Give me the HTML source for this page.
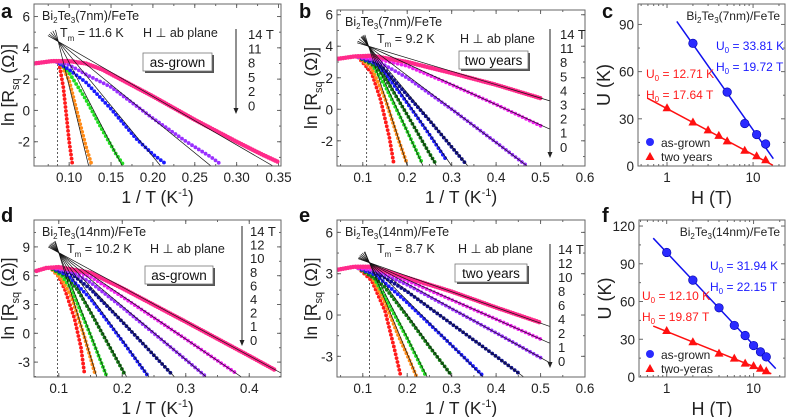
<!DOCTYPE html>
<html><head><meta charset="utf-8"><style>
body{margin:0;background:#fff}
svg{display:block;font-family:"Liberation Sans",Arial,sans-serif}
</style></head><body>
<svg id="fig" width="787" height="417" viewBox="0 0 787 417" xmlns="http://www.w3.org/2000/svg"></svg>
<script>
// ---------- Panel a data ----------
const A_fields=["14 T","11","8","5","2","0"];
const A_colors=["#ff2a8a","#9a30ff","#1a1aff","#22dd22","#ff8c1a","#ff1a1a"];
const A_slopes=[31,43.6,65,104,219,null];
const A_curves=[
 [[0.058,3.0],[0.08,3.15],[0.1,3.15],[0.12,3.0],[0.14,2.6],[0.2,0.9],[0.25,-0.6],[0.3,-2.0],[0.33,-2.8],[0.35,-3.3]],
 [[0.085,3.1],[0.1,2.9],[0.12,2.3],[0.15,1.5],[0.2,-0.5],[0.24,-2.0],[0.27,-3.0],[0.28,-3.4]],
 [[0.085,3.1],[0.1,2.6],[0.12,1.8],[0.15,0.1],[0.18,-1.8],[0.2,-2.8],[0.215,-3.4]],
 [[0.088,3.1],[0.1,2.4],[0.12,0.7],[0.14,-1.3],[0.155,-2.7],[0.165,-3.5]],
 [[0.09,3.0],[0.1,1.9],[0.11,-0.2],[0.12,-2.3],[0.127,-3.5]],
 [[0.088,3.0],[0.093,1.5],[0.097,-0.5],[0.1,-2.0],[0.104,-3.5]]
];
const A_xticks=[0.10,0.15,0.20,0.25,0.30,0.35];
const A_xlabels=["0.10","0.15","0.20","0.25","0.30","0.35"];
const A_yticks=[-2,0,2,4,6];
// ---------- Panel b data ----------
const B_fields=["14 T","11","8","5","4","3","2","1","0"];
const B_colors=["#ff2a8a","#ee22ee","#9a30ff","#101090","#1a1aff","#127a12","#22dd22","#ff8c1a","#ff1a1a"];
const B_slopes=[8.5,12.9,21.3,34,40.6,49.7,62,87,null];
const B_curves=[
 [[0.045,3.2],[0.08,3.35],[0.12,3.4],[0.2,3.0],[0.3,2.3],[0.4,1.55],[0.5,0.7]],
 [[0.09,3.3],[0.13,3.2],[0.2,2.75],[0.3,1.55],[0.4,0.3],[0.5,-1.05]],
 [[0.09,3.3],[0.13,3.1],[0.2,2.0],[0.3,0.0],[0.4,-2.1],[0.47,-3.6]],
 [[0.09,3.3],[0.13,3.0],[0.15,2.5],[0.2,0.9],[0.25,-0.7],[0.3,-2.4],[0.33,-3.4]],
 [[0.09,3.3],[0.13,2.9],[0.15,2.3],[0.2,0.4],[0.25,-1.6],[0.29,-3.3]],
 [[0.09,3.3],[0.13,2.7],[0.15,2.0],[0.2,-0.35],[0.25,-2.8],[0.265,-3.5]],
 [[0.09,3.3],[0.12,2.9],[0.15,1.5],[0.2,-1.4],[0.235,-3.5]],
 [[0.09,3.3],[0.12,2.6],[0.15,0.7],[0.18,-1.9],[0.2,-3.5]],
 [[0.09,3.3],[0.12,2.3],[0.14,0.6],[0.16,-1.8],[0.17,-3.5]]
];
const B_xticks=[0.1,0.2,0.3,0.4,0.5,0.6];
const B_xlabels=["0.1","0.2","0.3","0.4","0.5","0.6"];
const B_yticks=[-2,0,2,4,6];
// ---------- Panel d data ----------
const D_fields=["14 T","12","10","8","6","4","2","1","0"];
const D_colors=B_colors;
const D_slopes=[35.8,45,55.7,71,91,121,170,216,null];
const D_curves=[
 [[0.065,6.5],[0.08,6.8],[0.1,6.9],[0.15,6.3],[0.2,4.7],[0.3,1.2],[0.4,-2.35],[0.44,-3.8]],
 [[0.09,6.8],[0.12,6.6],[0.15,5.9],[0.2,3.8],[0.3,-0.6],[0.38,-4.2]],
 [[0.09,6.8],[0.12,6.4],[0.15,5.3],[0.2,2.7],[0.3,-2.75],[0.33,-4.4]],
 [[0.09,6.8],[0.12,6.2],[0.15,4.6],[0.2,1.2],[0.25,-2.3],[0.28,-4.4]],
 [[0.09,6.8],[0.115,6.0],[0.15,3.6],[0.2,-0.8],[0.24,-4.4]],
 [[0.09,6.7],[0.11,6.0],[0.13,4.5],[0.15,2.2],[0.2,-3.8],[0.205,-4.4]],
 [[0.09,6.7],[0.105,6.0],[0.12,4.6],[0.15,-0.2],[0.175,-4.4]],
 [[0.09,6.6],[0.105,5.6],[0.12,3.8],[0.14,-0.3],[0.158,-4.4]],
 [[0.09,6.6],[0.1,5.9],[0.11,4.5],[0.125,1.5],[0.135,-1.5],[0.14,-4.0]]
];
const D_xticks=[0.1,0.2,0.3,0.4];
const D_xlabels=["0.1","0.2","0.3","0.4"];
const D_yticks=[-3,0,3,6,9];
// ---------- Panel e data ----------
const E_fields=["14 T","12","10","8","6","4","2","1","0"];
const E_colors=B_colors;
const E_slopes=[11.4,14.4,17.9,23.9,32.4,44.6,63.8,77.6,null];
const E_curves=[
 [[0.045,3.3],[0.08,3.5],[0.12,3.5],[0.2,2.7],[0.3,1.7],[0.4,0.55],[0.5,-0.55]],
 [[0.09,3.4],[0.13,3.3],[0.2,2.5],[0.3,1.1],[0.4,-0.3],[0.5,-1.75]],
 [[0.09,3.4],[0.13,3.2],[0.2,2.2],[0.3,0.45],[0.4,-1.3],[0.5,-3.1]],
 [[0.09,3.4],[0.13,3.1],[0.2,1.7],[0.3,-0.65],[0.4,-3.0],[0.45,-4.2]],
 [[0.09,3.4],[0.13,2.9],[0.2,0.9],[0.3,-2.2],[0.37,-4.4]],
 [[0.09,3.4],[0.13,2.6],[0.15,2.0],[0.2,-0.1],[0.25,-2.3],[0.3,-4.4]],
 [[0.09,3.4],[0.12,3.0],[0.15,1.3],[0.2,-1.7],[0.24,-4.3]],
 [[0.09,3.4],[0.12,2.8],[0.15,0.9],[0.18,-1.5],[0.2,-2.9],[0.22,-4.4]],
 [[0.09,3.4],[0.12,2.5],[0.15,0.3],[0.17,-2.3],[0.185,-4.4]]
];
const E_xticks=B_xticks, E_xlabels=B_xlabels;
const E_yticks=[-3,0,3,6];
// ---------- Panel c / f data ----------
const C_blueH=[2,5,8,11,14];
const C_blueU=[78,47,27,20,14];
const C_redH=[1,2,3,4,5,8,11,14];
const C_redU=[37,28,23,19.5,16,10,6.5,4];
const C_fitBlue=[33.81,19.72], C_fitRed=[12.71,17.64];
const F_blueH=[1,2,4,6,8,10,12,14];
const F_blueU=[99,77,55,41,33,25,20,16];
const F_redH=[1,2,4,6,8,10,12,14];
const F_redU=[37,28,19,15,11,9,7,5];
const F_fitBlue=[31.94,22.15], F_fitRed=[12.10,19.87];

const NS="http://www.w3.org/2000/svg";
const svg=document.getElementById('fig');
function el(tag,attrs,parent){const e=document.createElementNS(NS,tag);for(const k in attrs)e.setAttribute(k,attrs[k]);(parent||svg).appendChild(e);return e;}
function txt(s,x,y,size,attrs,parent){const t=el('text',Object.assign({x:x,y:y,'font-size':size},attrs||{}),parent);t.innerHTML=s;return t;}

function frame(g,L,R,T,B){el('rect',{x:L,y:T,width:R-L,height:B-T,fill:'none',stroke:'#666','stroke-width':1},g);}

function rPanel(o){
 const g=el('g',{});
 
 
 const X=v=>o.L+(v-o.x0)/(o.x1-o.x0)*(o.R-o.L);
 const Y=v=>o.B-(v-o.y0)/(o.y1-o.y0)*(o.B-o.T);
 const xt=el('g',{},g);
 
 
 o.xticks.forEach((v,i)=>{const x=X(v);
  el('line',{x1:x,x2:x,y1:o.B,y2:o.B-4,stroke:'#666'},xt);
  el('line',{x1:x,x2:x,y1:o.T,y2:o.T+4,stroke:'#666'},xt);
  const t=txt(o.xlabels[i],x,o.B+16,13.5,{'text-anchor':'middle',fill:'#222'},xt);
  
  
 });
 for(let v=o.xticks[0]-o.xminor*Math.ceil((o.xticks[0]-o.x0)/o.xminor);v<o.x1;v+=o.xminor){const x=X(v);if(x<o.L||x>o.R)continue;
  el('line',{x1:x,x2:x,y1:o.B,y2:o.B-2,stroke:'#666'},xt);el('line',{x1:x,x2:x,y1:o.T,y2:o.T+2,stroke:'#666'},xt);}
 const yt=el('g',{},g);
 
 
 o.yticks.forEach(v=>{const y=Y(v);
  el('line',{x1:o.L,x2:o.L+4,y1:y,y2:y,stroke:'#666'},yt);
  el('line',{x1:o.R,x2:o.R-4,y1:y,y2:y,stroke:'#666'},yt);
  const t=txt(String(v),o.L-4,y+5,13.5,{'text-anchor':'end',fill:'#222'},yt);
  
  
 });
 for(let v=Math.ceil(o.y0/o.yminor)*o.yminor;v<o.y1;v+=o.yminor){const y=Y(v);
  el('line',{x1:o.L,x2:o.L+2,y1:y,y2:y,stroke:'#666'},yt);el('line',{x1:o.R,x2:o.R-2,y1:y,y2:y,stroke:'#666'},yt);}
 const cid='clip'+o.name;
 const cp=el('clipPath',{id:cid},g);el('rect',{x:o.L,y:o.T,width:o.R-o.L,height:o.B-o.T},cp);
 const pg=el('g',{'clip-path':'url(#'+cid+')'},g);
 const dl=el('line',{x1:X(o.tm),x2:X(o.tm),y1:o.B,y2:Y(o.flat),stroke:'#333','stroke-dasharray':'2 2','stroke-width':0.8},pg);
 
 
 for(let i=o.curves.length-1;i>=0;i--){
  const pts=o.curves[i].map(p=>X(p[0]).toFixed(1)+','+Y(p[1]).toFixed(1)).join(' ');
  const pl=el('polyline',{points:pts,fill:'none',stroke:o.colors[i],'stroke-width':i==0?4.5:3.8,'stroke-linecap':'round','stroke-dasharray':i==0?'0 2.5':'0 4'},pg);
  
  
 }
 o.slopes.forEach((s,i)=>{if(s==null)return;
  let xe=o.xEnd, ye=o.pv[1]-s*(xe-o.pv[0]);
  if(ye<o.y0){ye=o.y0;xe=o.pv[0]+(o.pv[1]-o.y0)/s;}
  const px=X(o.pv[0]),py=Y(o.pv[1]),ex=X(xe),ey=Y(ye);
  const dx=ex-px,dy=ey-py,len=Math.hypot(dx,dy);
  const sx=px-dx/len*12, sy=py-dy/len*12;
  const ln=el('line',{x1:sx,y1:sy,x2:ex,y2:ey,stroke:'#111','stroke-width':0.7},pg);
  
  
 });
 frame(g,o.L,o.R,o.T,o.B);
 const xl=txt('1 / T (K<tspan font-size="11" dy="-7">-1</tspan><tspan dy="7">)</tspan>',(o.L+o.R)/2,o.B+37,17.5,{'text-anchor':'middle',fill:'#222'},g);
 
 
 const yl=txt('ln [R<tspan font-size="11" dy="5">sq</tspan><tspan dy="-5"> (Ω)]</tspan>',0,0,17.5,{'text-anchor':'middle',fill:'#222',transform:'translate('+(o.L-20)+','+((o.T+o.B)/2)+') rotate(-90)'},g);
 
 
 const pl=txt(o.letter,o.lx,o.ly,20,{'font-weight':'bold',fill:'#111'},g);
 
 
 const sm=txt('Bi<tspan font-size="8" dy="3">2</tspan><tspan dy="-3">Te</tspan><tspan font-size="8" dy="3">3</tspan><tspan dy="-3">'+o.sample+'</tspan>',o.L+8,o.T+16,12.5,{fill:'#222'},g);
 
 
 const tm=txt('T<tspan font-size="8" dy="4">m</tspan><tspan dy="-4"> = '+o.tmText+'</tspan>',o.tmx,o.T+33,12.5,{fill:'#222'},g);
 
 
 const hp=txt('H ⊥ ab plane',o.hx,o.T+33,12.5,{fill:'#222'},g);
 
 
 const bx=el('g',{},g);
 
 
 el('rect',{x:o.bx+2,y:o.by+2,width:o.bw,height:18,fill:'#555'},bx);
 el('rect',{x:o.bx,y:o.by,width:o.bw,height:18,fill:'#fff',stroke:'#777','stroke-width':0.8},bx);
 txt(o.boxText,o.bx+o.bw/2,o.by+14,13.5,{'text-anchor':'middle',fill:'#111'},bx);
 const fl=el('g',{},svg);
 
 
 o.fields.forEach((f,i)=>{txt(f,o.fx,o.fy0+i*o.fdy+4,13,{fill:'#222'},fl);});
 el('line',{x1:o.ax,x2:o.ax,y1:o.fy0-6,y2:o.ay1-5,stroke:'#222','stroke-width':1},fl);
 el('polygon',{points:(o.ax-2.5)+','+(o.ay1-6)+' '+(o.ax+2.5)+','+(o.ay1-6)+' '+o.ax+','+o.ay1,fill:'#222'},fl);
}

rPanel({name:'panel-a',letter:'a',lx:1,ly:18,L:34,R:281,T:4,B:166,x0:0.058,x1:0.353,y0:-3.55,y1:6.8,
 xticks:A_xticks,xlabels:A_xlabels,xminor:0.025,yticks:A_yticks,yminor:1,curves:A_curves,colors:A_colors,slopes:A_slopes,fields:A_fields,
 pv:[0.087,4.4],tm:0.0862,flat:3.1,xEnd:0.353,sample:'(7nm)/FeTe',tmText:'11.6 K',tmx:60,hx:143,bx:143,by:53,bw:69,boxText:'as-grown',
 fx:248,fy0:35,fdy:14.3,ax:236,ay1:114});
rPanel({name:'panel-b',letter:'b',lx:299,ly:18,L:337,R:585,T:10,B:166,x0:0.042,x1:0.6,y0:-3.6,y1:6.3,
 xticks:B_xticks,xlabels:B_xlabels,xminor:0.05,yticks:B_yticks,yminor:1,curves:B_curves,colors:B_colors,slopes:B_slopes,fields:B_fields,
 pv:[0.113,4.0],tm:0.1087,flat:3.3,xEnd:0.52,sample:'(7nm)/FeTe',tmText:'9.2 K',tmx:377,hx:460,bx:459,by:51,bw:69,boxText:'two years',
 fx:560,fy0:35,fdy:14.1,ax:550,ay1:158});
rPanel({name:'panel-d',letter:'d',lx:1,ly:222,L:34,R:281,T:220,B:377,x0:0.061,x1:0.45,y0:-4.55,y1:11.8,
 xticks:D_xticks,xlabels:D_xlabels,xminor:0.05,yticks:D_yticks,yminor:1.5,curves:D_curves,colors:D_colors,slopes:D_slopes,fields:D_fields,
 pv:[0.1,8.4],tm:0.098,flat:6.7,xEnd:0.45,sample:'(14nm)/FeTe',tmText:'10.2 K',tmx:67,hx:150,bx:145,by:266,bw:68,boxText:'as-grown',
 fx:250,fy0:232,fdy:13.6,ax:242,ay1:346});
rPanel({name:'panel-e',letter:'e',lx:299,ly:222,L:337,R:585,T:220,B:377,x0:0.042,x1:0.6,y0:-4.5,y1:6.9,
 xticks:E_xticks,xlabels:E_xlabels,xminor:0.05,yticks:E_yticks,yminor:1.5,curves:E_curves,colors:E_colors,slopes:E_slopes,fields:E_fields,
 pv:[0.115,3.8],tm:0.115,flat:3.4,xEnd:0.52,sample:'(14nm)/FeTe',tmText:'8.7 K',tmx:377,hx:458,bx:455,by:264,bw:72,boxText:'two years',
 fx:558,fy0:250,fdy:14,ax:550,ay1:368});

function uPanel(o){
 const g=el('g',{});
 
 
 const X=h=>o.L+(Math.log10(h)-Math.log10(o.h0))/(Math.log10(o.h1)-Math.log10(o.h0))*(o.R-o.L);
 const Y=u=>o.B-(u-0)/(o.u1)*(o.B-o.T);
 const ax=el('g',{},g);
 
 
 [1,10].forEach(h=>{const x=X(h);el('line',{x1:x,x2:x,y1:o.B,y2:o.B-4,stroke:'#666'},ax);el('line',{x1:x,x2:x,y1:o.T,y2:o.T+4,stroke:'#666'},ax);
  const t=txt(String(h),x,o.B+16,13.5,{'text-anchor':'middle',fill:'#222'},ax);
  
  });
 [0.5,0.6,0.7,0.8,0.9,2,3,4,5,6,7,8,9,20].forEach(h=>{const x=X(h);if(x<o.L||x>o.R)return;
  el('line',{x1:x,x2:x,y1:o.B,y2:o.B-2,stroke:'#666'},ax);el('line',{x1:x,x2:x,y1:o.T,y2:o.T+2,stroke:'#666'},ax);});
 const ay=el('g',{},g);
 
 
 o.yticks.forEach(u=>{const y=Y(u);el('line',{x1:o.L,x2:o.L+4,y1:y,y2:y,stroke:'#666'},ay);el('line',{x1:o.R,x2:o.R-4,y1:y,y2:y,stroke:'#666'},ay);
  const t=txt(String(u),o.L-4,y+5,13.5,{'text-anchor':'end',fill:'#222'},ay);
  
  });
 o.yticks.forEach(u=>{const y=Y(u+15);if(y<o.T)return;el('line',{x1:o.L,x2:o.L+2,y1:y,y2:y,stroke:'#666'},ay);el('line',{x1:o.R,x2:o.R-2,y1:y,y2:y,stroke:'#666'},ay);});
 const fit=(p,h)=>p[0]*Math.log(p[1]/h);
 const lb=el('polyline',{points:[o.bl[0],o.bl[1]].map(h=>X(h)+','+Y(fit(o.fitB,h))).join(' '),stroke:'#1010ee','stroke-width':1.5,fill:'none'},g);
 
 
 const lr=el('polyline',{points:[o.rl[0],o.rl[1]].map(h=>X(h)+','+Y(fit(o.fitR,h))).join(' '),stroke:'#ff1010','stroke-width':1.5,fill:'none'},g);
 
 
 o.bH.forEach((h,i)=>{const c=el('circle',{cx:X(h),cy:Y(o.bU[i]),r:4.3,fill:'#2a2aff',stroke:'#0000aa','stroke-width':0.6},g);
  
  });
 o.rH.forEach((h,i)=>{const x=X(h),y=Y(o.rU[i]);const t=el('polygon',{points:(x-4.5)+','+(y+3.5)+' '+(x+4.5)+','+(y+3.5)+' '+x+','+(y-4.5),fill:'#ff1010'},g);
  
  });
 frame(g,o.L,o.R,o.T,o.B);
 const xl=txt('H (T)',(o.L+o.R)/2,o.B+38,18,{'text-anchor':'middle',fill:'#222'},g);
 
 
 const yl=txt('U (K)',0,0,18,{'text-anchor':'middle',fill:'#222',transform:'translate('+(o.L-28)+','+((o.T+o.B)/2)+') rotate(-90)'},g);
 
 
 const pl=txt(o.letter,602,o.ly,20,{'font-weight':'bold',fill:'#111'},g);
 
 
 const sm=txt('Bi<tspan font-size="8" dy="3">2</tspan><tspan dy="-3">Te</tspan><tspan font-size="8" dy="3">3</tspan><tspan dy="-3">'+o.sample+'</tspan>',o.R-5,o.T+16,12,{fill:'#222','text-anchor':'end'},g);
 
 
 const ann=el('g',{},g);
 
 
 const fs=12;
 txt('U<tspan font-size="8" dy="3">0</tspan><tspan dy="-3"> = '+o.fitB[0].toFixed(2)+' K</tspan>',o.bax,o.bay,fs,{fill:'#1a1aff'},ann);
 txt('H<tspan font-size="8" dy="3">0</tspan><tspan dy="-3"> = '+o.fitB[1].toFixed(2)+' T</tspan>',o.bax,o.bay+21,fs,{fill:'#1a1aff'},ann);
 txt('U<tspan font-size="8" dy="3">0</tspan><tspan dy="-3"> = '+o.fitR[0].toFixed(2)+' K</tspan>',o.rax,o.ray,fs,{fill:'#ff1a1a'},ann);
 txt('H<tspan font-size="8" dy="3">0</tspan><tspan dy="-3"> = '+o.fitR[1].toFixed(2)+' T</tspan>',o.rax,o.ray+21,fs,{fill:'#ff1a1a'},ann);
 const lg=el('g',{},g);
 
 
 el('circle',{cx:650,cy:o.lgy,r:4,fill:'#2a2aff'},lg);
 txt('as-grown',661,o.lgy+5,12,{fill:'#222'},lg);
 el('polygon',{points:'645.5,'+(o.lgy+18)+' 654.5,'+(o.lgy+18)+' 650,'+(o.lgy+10),fill:'#ff1010'},lg);
 txt(o.redName,661,o.lgy+19,12,{fill:'#222'},lg);
}
uPanel({name:'panel-c',letter:'c',ly:18,L:638,R:785,T:4,B:166,h0:0.46,h1:23.5,u1:103,yticks:[0,30,60,90],
 bH:C_blueH,bU:C_blueU,rH:C_redH,rU:C_redU,fitB:C_fitBlue,fitR:C_fitRed,bl:[1.3,17.2],rl:[0.6,17],
 sample:'(7nm)/FeTe',bax:716,bay:50,rax:646,ray:78,lgy:142,redName:'two years'});
uPanel({name:'panel-f',letter:'f',ly:222,L:639,R:785,T:220,B:377,h0:0.48,h1:23,u1:124.8,yticks:[0,30,60,90,120],
 bH:F_blueH,bU:F_blueU,rH:F_redH,rU:F_redU,fitB:F_fitBlue,fitR:F_fitRed,bl:[0.7,18],rl:[0.7,16],
 sample:'(14nm)/FeTe',bax:710,bay:270,rax:642,ray:300,lgy:354,redName:'two-yeras'});
</script>
</body></html>
